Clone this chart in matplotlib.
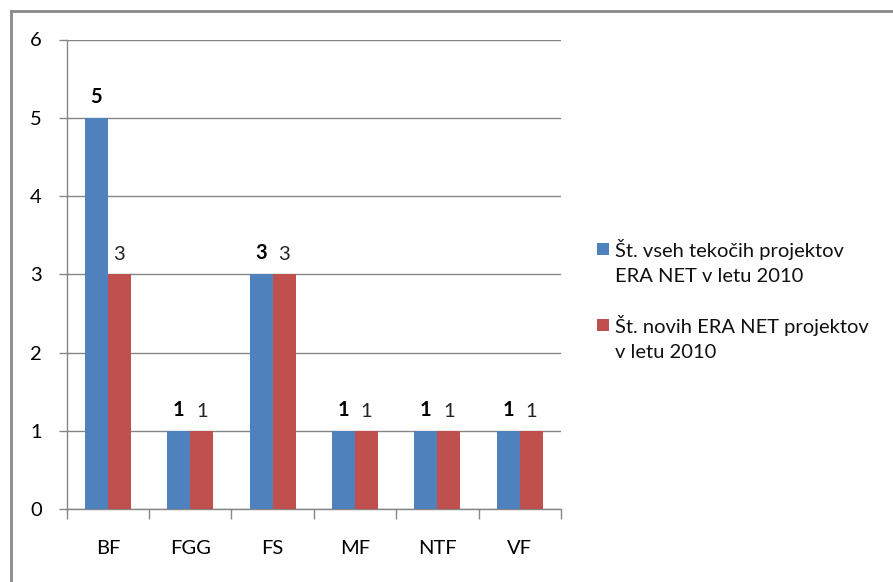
import matplotlib
matplotlib.use("Agg")
import matplotlib.pyplot as plt
import numpy as np
from matplotlib.lines import Line2D
from matplotlib.patches import Rectangle

categories = ["BF", "FGG", "FS", "MF", "NTF", "VF"]
all_projects = [5, 1, 3, 1, 1, 1]
new_projects = [3, 1, 3, 1, 1, 1]
series_names = ["Št. vseh tekočih projektov\nERA NET v letu 2010",
                "Št. novih ERA NET projektov\nv letu 2010"]
yticks = [0, 1, 2, 3, 4, 5, 6]

plt.rcParams['font.family'] = ['Lato', 'DejaVu Sans']

W, H = 893, 582
fig = plt.figure(figsize=(W / 100, H / 100), dpi=100)
ax = fig.add_axes([66.7 / W, 1 - 509 / H, (561 - 66.7) / W, (509 - 39.5) / H])

blue = "#4F81BD"
red = "#C0504D"
grid = "#868686"
fs = 14.5

x = np.arange(len(categories))
bw = 0.28
b1 = ax.bar(x - bw / 2, all_projects, bw, color=blue, zorder=3)
b2 = ax.bar(x + bw / 2, new_projects, bw, color=red, zorder=3)

for rect, v in zip(b1, all_projects):
    ax.annotate(str(v), (rect.get_x() + rect.get_width() / 2, v), xytext=(0, 8),
                textcoords="offset points", ha="center", va="bottom",
                fontsize=fs, fontweight="bold", color="black")
for rect, v in zip(b2, new_projects):
    ax.annotate(str(v), (rect.get_x() + rect.get_width() / 2, v), xytext=(0, 8),
                textcoords="offset points", ha="center", va="bottom",
                fontsize=fs, color="#222222")

ax.set_xlim(-0.5, len(categories) - 0.5)
ax.set_ylim(0, 6)
ax.set_yticks(yticks)
ax.set_yticklabels([str(t) for t in yticks], fontsize=fs)
ax.set_xticks(x)
ax.set_xticklabels(categories, fontsize=fs)
ax.set_xticks(np.arange(-0.5, len(categories)), minor=True)
ax.tick_params(axis="x", which="major", length=0, pad=22)
ax.tick_params(axis="x", which="minor", length=7, color=grid, width=1)
ax.tick_params(axis="y", length=6, color=grid, width=1, pad=12)

ax.yaxis.grid(True, color=grid, linewidth=1, zorder=0)
for s in ["top", "right"]:
    ax.spines[s].set_visible(False)
for s in ["left", "bottom"]:
    ax.spines[s].set_color(grid)
    ax.spines[s].set_linewidth(1)

# legend (square aligned with first line of each entry)
legend_y = [249, 325]
for name, col, yc in zip(series_names, [blue, red], legend_y):
    fig.add_artist(Rectangle((597 / W, 1 - (yc + 6) / H), 12 / W, 12 / H,
                             transform=fig.transFigure, facecolor=col, edgecolor="none"))
    for k, line in enumerate(name.split("\n")):
        fig.text(615 / W, 1 - (yc + 28 * k) / H, line, fontsize=fs,
                 ha="left", va="center", color="#111111")

# outer frame (left and top edges)
fig.add_artist(Line2D([11 / W, 11 / W], [0, 1 - 11 / H], transform=fig.transFigure,
                      color="#8a8a8a", linewidth=2))
fig.add_artist(Line2D([11 / W, 1], [1 - 11 / H, 1 - 11 / H], transform=fig.transFigure,
                      color="#8a8a8a", linewidth=2))

fig.savefig("out.png", dpi=100, facecolor="white")
